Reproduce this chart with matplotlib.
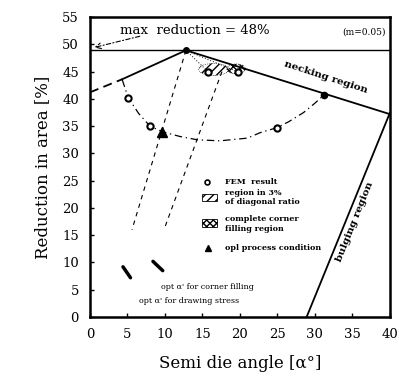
import matplotlib
matplotlib.use("Agg")
import matplotlib.pyplot as plt
from matplotlib.patches import Ellipse, Rectangle

plt.rcParams['font.family'] = ['DejaVu Serif']

# ---- data ----
neck_x = [12.8, 40.0]
neck_y = [48.9, 37.2]
left_solid_x = [4.3, 12.8]
left_solid_y = [43.6, 48.9]
left_dash_x = [0.0, 4.3]
left_dash_y = [41.2, 43.6]
bulge_x = [28.9, 40.0]
bulge_y = [0.0, 37.4]
max_red = 49.0

arc_x = [4.3, 5.1, 6.5, 8.0, 9.6, 12.0, 14.3, 17.3, 21.0, 22.7, 24.9, 26.5, 28.5, 30.0, 31.2]
arc_y = [43.5, 40.2, 37.3, 35.0, 34.0, 33.1, 32.5, 32.3, 32.8, 33.8, 34.7, 35.8, 37.5, 39.2, 40.7]

fem_x = [5.1, 8.0, 24.9, 15.8, 19.8]
fem_y = [40.2, 35.0, 34.7, 44.9, 44.9]
neck_pt_x = [31.2]
neck_pt_y = [40.7]
opt_x = [9.6]
opt_y = [34.0]

fanA_x = [12.8, 5.6]
fanA_y = [48.9, 16.0]
fanB_x = [17.6, 10.0]
fanB_y = [45.0, 16.5]

ptr1_x = [4.4, 5.4]
ptr1_y = [9.2, 7.2]
ptr2_x = [8.4, 9.7]
ptr2_y = [10.2, 8.5]

fig = plt.figure(figsize=(3.99, 3.79), dpi=100)
ax = fig.add_axes([0.2256, 0.1636, 0.7514, 0.7914])
ax.set_xlim(0, 40)
ax.set_ylim(0, 55)

lc = 'black'
ax.axhline(max_red, color=lc, lw=1.0)
ax.plot(neck_x, neck_y, color=lc, lw=1.3)
ax.plot(left_solid_x, left_solid_y, color=lc, lw=1.3)
ax.plot(left_dash_x, left_dash_y, color=lc, lw=1.3, ls=(0, (5, 3)))
ax.plot(bulge_x, bulge_y, color=lc, lw=1.3)
ax.plot(arc_x, arc_y, color=lc, lw=0.9, ls=(0, (6, 3, 1, 3)))
ax.plot(fanA_x, fanA_y, color=lc, lw=0.8, ls=(0, (4, 4)))
ax.plot(fanB_x, fanB_y, color=lc, lw=0.8, ls=(0, (4, 4)))
ax.plot([12.8, 15.8], [48.9, 44.9], color=lc, lw=0.7, ls=(0, (1, 2)))
ax.plot([12.8, 19.8], [48.9, 44.9], color=lc, lw=0.7, ls=(0, (1, 2)))
ax.plot(ptr1_x, ptr1_y, color=lc, lw=2.5, solid_capstyle='round')
ax.plot(ptr2_x, ptr2_y, color=lc, lw=2.5, solid_capstyle='round')

# hatched regions near peak
ax.add_patch(Ellipse((16.5, 45.4), 4.0, 2.2, fill=False, hatch='////', lw=0.5, ls=':'))
ax.add_patch(Ellipse((19.5, 45.5), 2.5, 1.8, fill=False, hatch='xxxx', lw=0.5, ls=':'))

ax.plot(fem_x, fem_y, 'o', ms=4.5, mfc='white', mec=lc, mew=1.5)
ax.plot(neck_pt_x, neck_pt_y, 'o', ms=4.5, color=lc)
ax.plot([12.8], [48.9], 'o', ms=4, color=lc)
ax.plot(opt_x, opt_y, '^', ms=7, color=lc)

# annotations
ax.annotate('', xy=(0.2, 49.3), xytext=(7.0, 51.6),
            arrowprops=dict(arrowstyle='->', lw=0.8, ls=(0, (4, 2, 1, 2)), color=lc))
ax.text(14.0, 52.5, 'max  reduction = 48%', ha='center', va='center', fontsize=9.5)
ax.text(39.5, 52.3, '(m=0.05)', ha='right', va='center', fontsize=6.5)
ax.text(31.5, 44.0, 'necking region', ha='center', va='center', fontsize=7.5,
        rotation=-18, fontweight='bold')
ax.text(35.3, 17.5, 'bulging region', ha='center', va='center', fontsize=7.5,
        rotation=68, fontweight='bold')

fs = 5.8
ax.plot([15.6], [24.8], 'o', ms=3.5, mfc='white', mec=lc, mew=1.2)
ax.text(18.0, 24.8, 'FEM  result', fontsize=fs, va='center', fontweight='bold')
ax.add_patch(Rectangle((15.0, 21.2), 2.0, 1.4, fill=False, hatch='////', lw=0.6))
ax.text(18.0, 22.7, 'region in 3%', fontsize=fs, va='center', fontweight='bold')
ax.text(18.0, 21.1, 'of diagonal ratio', fontsize=fs, va='center', fontweight='bold')
ax.add_patch(Rectangle((15.0, 16.5), 2.0, 1.4, fill=False, hatch='xxxxx', lw=0.6))
ax.text(18.0, 18.0, 'complete corner', fontsize=fs, va='center', fontweight='bold')
ax.text(18.0, 16.1, 'filling region', fontsize=fs, va='center', fontweight='bold')
ax.plot([15.8], [12.6], '^', ms=4, color=lc)
ax.text(18.0, 12.6, 'opl process condition', fontsize=fs, va='center', fontweight='bold')
ax.text(9.5, 5.5, "opt \u03b1' for corner filling", fontsize=fs, va='center')
ax.text(6.6, 2.9, "opt \u03b1' for drawing stress", fontsize=fs, va='center')

ax.set_xticks(range(0, 41, 5))
ax.set_yticks(range(0, 56, 5))
ax.tick_params(direction='in', length=3, width=1, labelsize=9.5, pad=8)
for s in ax.spines.values():
    s.set_linewidth(1.8)
ax.set_xlabel('Semi die angle [\u03b1\u00b0]', fontsize=12, labelpad=10)
ax.set_ylabel('Reduction in area [%]', fontsize=12, labelpad=8)

fig.savefig('out.png', dpi=100)
